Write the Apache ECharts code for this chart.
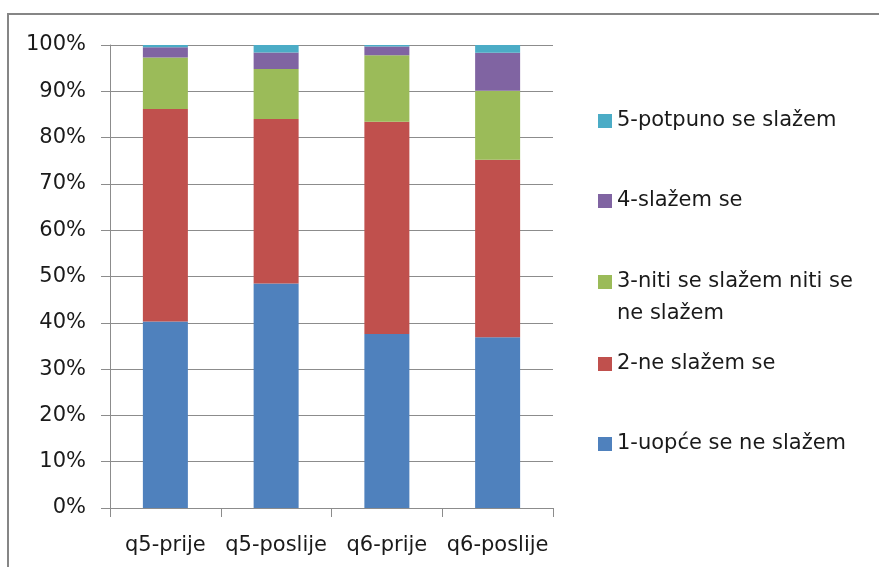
<!DOCTYPE html>
<html>
<head>
<meta charset="utf-8">
<script src="https://cdn.jsdelivr.net/npm/echarts@6/dist/echarts.min.js"></script>
<style>html,body{margin:0;padding:0;background:#fff;}#c{width:879px;height:567px;}</style>
</head>
<body>
<div id="c"></div>
<script>
const categories = ['q5-prije', 'q5-poslije', 'q6-prije', 'q6-poslije'];
const seriesNames = ['1-uopće se ne slažem', '2-ne slažem se', '3-niti se slažem niti se ne slažem', '4-slažem se', '5-potpuno se slažem'];
const s1 = [40.3, 48.5, 37.6, 36.9];
const s2 = [45.9, 35.5, 45.8, 38.3];
const s3 = [11.1, 10.8, 14.4, 14.9];
const s4 = [2.2, 3.6, 1.9, 8.2];
const s5 = [0.5, 1.6, 0.3, 1.7];
const colors = ['#4F81BD', '#C0504D', '#9BBB59', '#8064A2', '#4BACC6'];
const yTicks = [0, 10, 20, 30, 40, 50, 60, 70, 80, 90, 100];

const values = [s1, s2, s3, s4, s5];
const FONT = 'DejaVu Sans';
const FS = 21;
const chart = echarts.init(document.getElementById('c'), null, {renderer: 'canvas'});

const legendTops = {4: 100, 3: 180, 2: 229, 1: 343, 0: 423};
const legendLabels = {
  '3-niti se slažem niti se ne slažem': '\n3-niti se slažem niti se\nne slažem'
};
const legends = [4, 3, 2, 1, 0].map(i => ({
  show: true,
  orient: 'vertical',
  left: 593,
  top: legendTops[i],
  itemWidth: 14,
  itemHeight: 14,
  icon: 'rect',
  selectedMode: false,
  data: [seriesNames[i]],
  formatter: n => legendLabels[n] || n,
  textStyle: {
    fontFamily: FONT,
    fontSize: FS,
    color: '#1a1a1a',
    lineHeight: 32
  }
}));

chart.setOption({
  animation: false,
  color: colors,
  graphic: [{
    type: 'rect',
    shape: {x: 8, y: 14, width: 900, height: 600},
    style: {fill: 'none', stroke: '#868686', lineWidth: 2},
    silent: true
  }],
  legend: legends,
  grid: {left: 110, right: 326, top: 45, bottom: 59},
  xAxis: {
    type: 'category',
    data: categories,
    axisLine: {lineStyle: {color: '#8c8c8c', width: 1}},
    axisTick: {show: true, length: 9, lineStyle: {color: '#8c8c8c'}},
    axisLabel: {fontFamily: FONT, fontSize: FS, color: '#1a1a1a', margin: 27, interval: 0}
  },
  yAxis: {
    type: 'value',
    min: 0,
    max: 100,
    interval: 10,
    axisLine: {show: true, lineStyle: {color: '#8c8c8c', width: 1}},
    axisTick: {show: true, length: 9, lineStyle: {color: '#8c8c8c'}},
    splitLine: {lineStyle: {color: '#8c8c8c', width: 1}},
    axisLabel: {
      fontFamily: FONT, fontSize: FS, color: '#1a1a1a', margin: 24,
      formatter: v => yTicks.includes(v) ? v + '%' : ''
    }
  },
  series: values.map((v, i) => ({
    name: seriesNames[i],
    type: 'bar',
    stack: 'total',
    barWidth: 45,
    data: v,
    itemStyle: {color: colors[i]}
  }))
});
</script>
</body>
</html>
